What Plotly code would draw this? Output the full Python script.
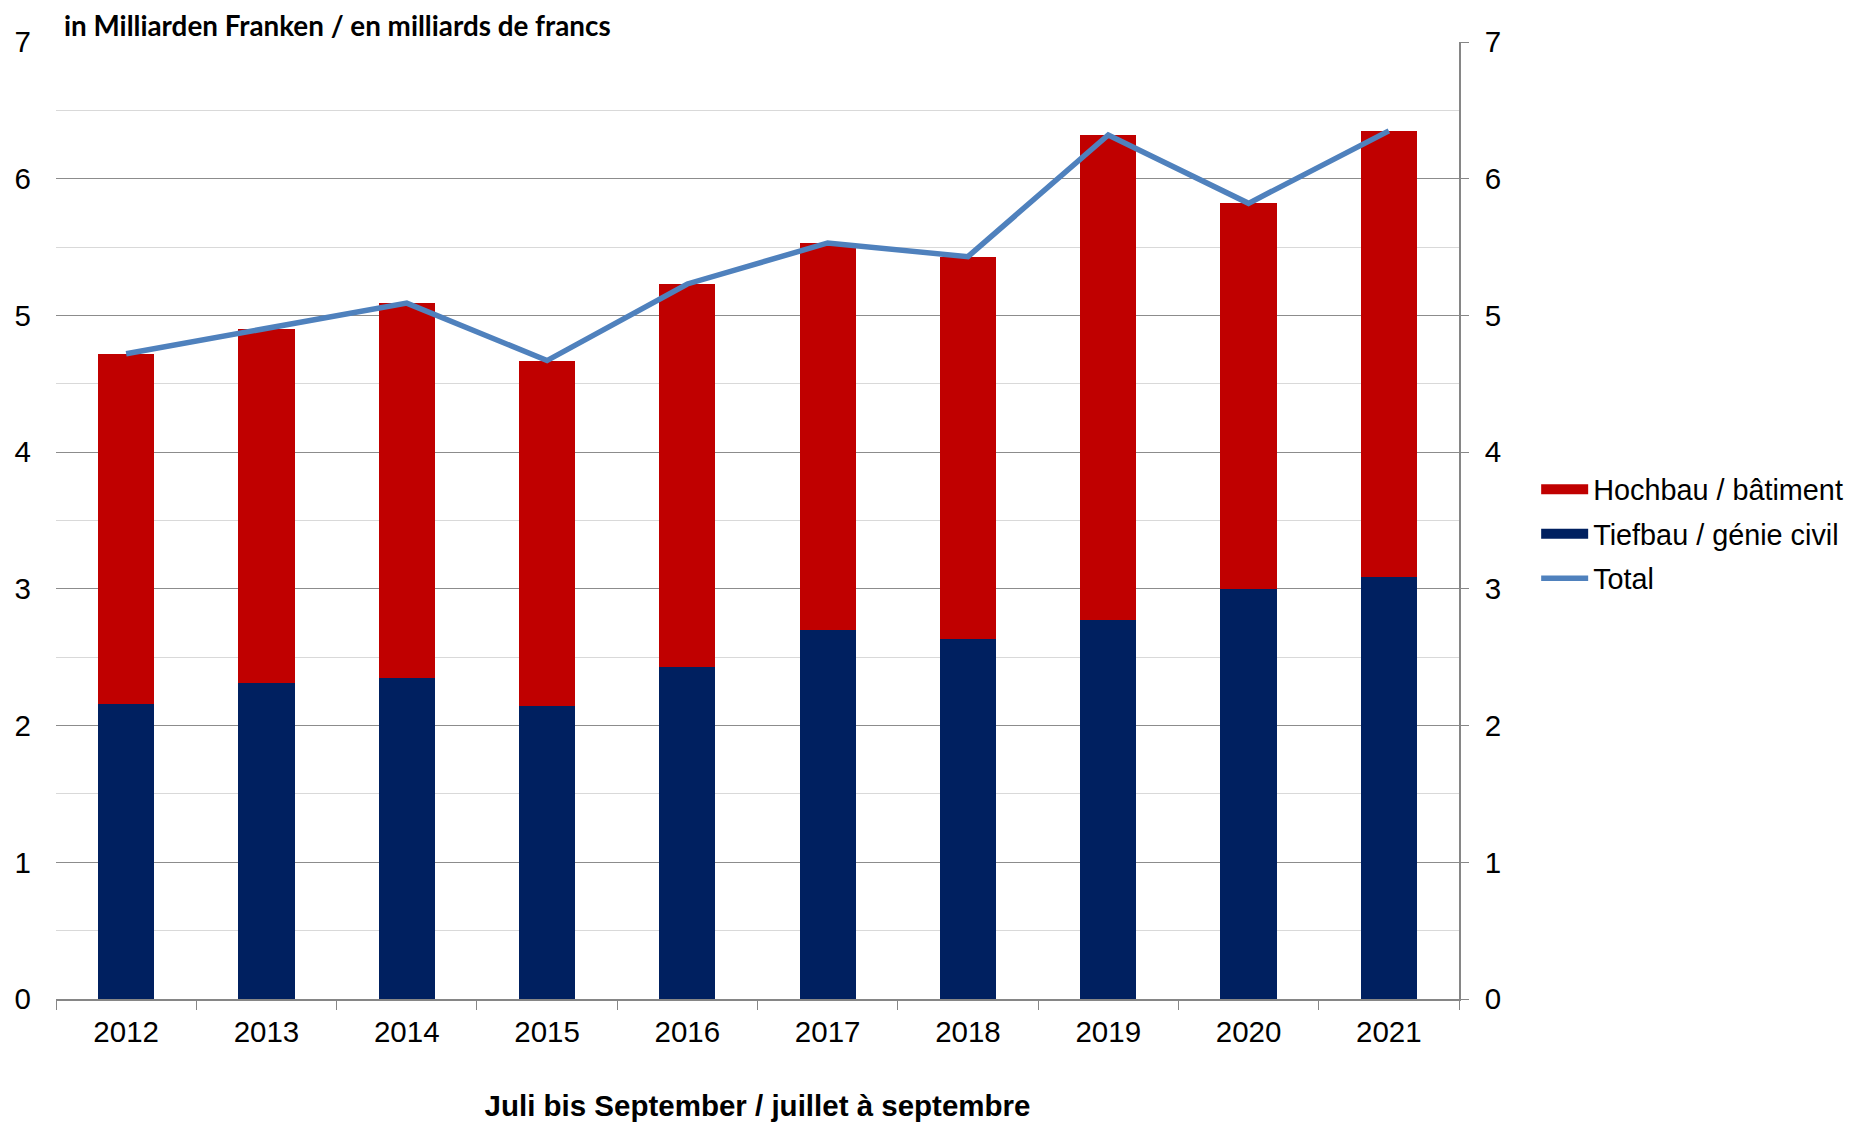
import plotly.graph_objects as go

years = ["2012", "2013", "2014", "2015", "2016", "2017", "2018", "2019", "2020", "2021"]
total = [4.72, 4.90, 5.09, 4.67, 5.23, 5.53, 5.43, 6.32, 5.82, 6.35]
tiefbau = [2.16, 2.31, 2.35, 2.14, 2.43, 2.70, 2.63, 2.77, 3.00, 3.09]
hochbau = [round(t - b, 2) for t, b in zip(total, tiefbau)]

RED = "#C00000"
NAVY = "#002060"
BLUE = "#4F81BD"
FONT = "Liberation Sans, Arial, sans-serif"

fig = go.Figure()
fig.add_trace(go.Bar(x=years, y=tiefbau, name="Tiefbau / génie civil",
                     marker=dict(color=NAVY, line=dict(width=0)), showlegend=False))
fig.add_trace(go.Bar(x=years, y=hochbau, name="Hochbau / bâtiment",
                     marker=dict(color=RED, line=dict(width=0)), showlegend=False))
fig.add_trace(go.Scatter(x=years, y=total, name="Total", mode="lines",
                         line=dict(color=BLUE, width=5.5), showlegend=False))
# invisible trace to anchor the right axis
fig.add_trace(go.Scatter(x=years, y=total, yaxis="y2", mode="lines", opacity=0,
                         showlegend=False, hoverinfo="skip"))

# legend entries (wide swatches like the original)
fig.add_trace(go.Scatter(x=[None], y=[None], mode="lines", name="Hochbau / bâtiment",
                         line=dict(color=RED, width=15), legendgroup="a"))
fig.add_trace(go.Scatter(x=[None], y=[None], mode="lines", name="Tiefbau / génie civil",
                         line=dict(color=NAVY, width=15), legendgroup="b"))
fig.add_trace(go.Scatter(x=[None], y=[None], mode="lines", name="Total",
                         line=dict(color=BLUE, width=5.5), legendgroup="c"))

fig.update_layout(
    width=1848, height=1114,
    barmode="stack", bargap=0.6,
    plot_bgcolor="white", paper_bgcolor="white",
    margin=dict(l=48, r=397, t=34, b=123, autoexpand=False),
    font=dict(family=FONT, size=29.5, color="#000000"),
    xaxis=dict(type="category", showgrid=False, showline=True, linecolor="#868686",
               linewidth=1.5, ticks="outside", tickson="boundaries", ticklen=9,
               tickcolor="#868686", tickfont=dict(size=29.5), ticklabelstandoff=6,
               automargin=False,
               title=dict(text="<b>Juli bis September / juillet à septembre</b>",
                          font=dict(size=29.5), standoff=50)),
    yaxis=dict(range=[0, 7], dtick=1, showline=False, zeroline=False, automargin=False,
               gridcolor="#8C8C8C", gridwidth=1.2, ticks="", ticklabelstandoff=24,
               minor=dict(dtick=0.5, showgrid=True, gridcolor="#D9D9D9", gridwidth=1.2),
               tickfont=dict(size=29.5)),
    yaxis2=dict(range=[0, 7], dtick=1, overlaying="y", side="right", showgrid=False,
                zeroline=False, showline=True, linecolor="#868686", linewidth=1.5,
                ticks="outside", ticklen=8, tickcolor="#868686", tickfont=dict(size=29.5),
                ticklabelstandoff=10, automargin=False),
    legend=dict(x=1.055, y=0.559, xanchor="left", yanchor="top",
                font=dict(size=28.8), bgcolor="rgba(0,0,0,0)", itemwidth=47,
                traceorder="grouped", tracegroupgap=4),
    showlegend=True,
)

fig.add_annotation(text="<b>in Milliarden Franken / en milliards de francs</b>",
                   xref="paper", yref="paper", x=(55 - 48) / 1403, y=1 + 34 / 957,
                   xanchor="left", yanchor="top", showarrow=False, borderpad=0,
                   font=dict(family="Lato, Open Sans, sans-serif", size=27.8, color="#000000"))

fig.write_html("out.html")
